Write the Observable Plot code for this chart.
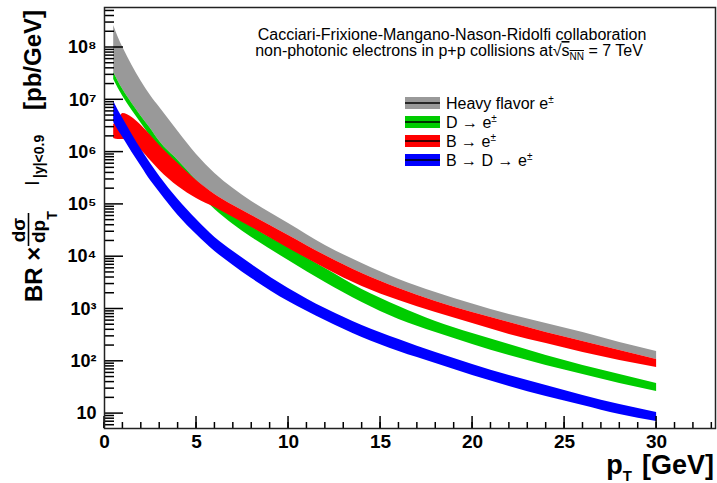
<!DOCTYPE html>
<html><head><meta charset="utf-8">
<script src="https://cdn.jsdelivr.net/npm/d3@7"></script>
<script src="https://cdn.jsdelivr.net/npm/@observablehq/plot@0.6"></script>
<style>
html,body{margin:0;padding:0;background:#fff;overflow:hidden;}
#chart{width:717px;height:483px;}
</style></head><body><div id="chart"></div>
<script>
// pT grid (GeV)
const pt = [0.5, 0.75, 1, 1.5, 2, 2.5, 3, 4, 5, 6, 7, 8, 10, 12, 14, 16, 18, 20, 22, 24, 26, 28, 30];
// Heavy flavor e± band (pb/GeV)
const hfHi = [2.63e8, 1.55e8, 1.00e8, 4.53e7, 2.24e7, 1.21e7, 7.13e6, 2.48e6, 9.00e5, 3.90e5, 2.01e5, 1.14e5, 4.31e4, 1.64e4, 7.42e3, 3.67e3, 2.07e3, 1.25e3, 785, 528, 355, 229, 154];
const hfLo = [3.33e7, 2.24e7, 1.57e7, 8.50e6, 4.80e6, 2.83e6, 1.59e6, 6.91e5, 2.86e5, 1.55e5, 9.53e4, 6.14e4, 2.54e4, 1.05e4, 4.78e3, 2.47e3, 1.39e3, 858, 552, 355, 239, 161, 108];
// D -> e±
const dHi = [3.33e7, 2.24e7, 1.57e7, 8.50e6, 4.80e6, 2.83e6, 1.59e6, 6.91e5, 2.86e5, 1.30e5, 6.70e4, 3.78e4, 1.50e4, 5.95e3, 2.36e3, 1.12e3, 577, 340, 210, 129, 83.1, 55.9, 37.6];
const dLo = [2.44e7, 1.64e7, 1.16e7, 6.24e6, 3.52e6, 1.99e6, 1.12e6, 4.65e5, 1.84e5, 7.99e4, 4.13e4, 2.33e4, 8.46e3, 3.21e3, 1.33e3, 630, 355, 210, 129, 83.1, 55.9, 37.6, 26.5];
// B -> e±
const bHi = [3.37e6, 4.20e6, 5.47e6, 4.59e6, 3.23e6, 2.10e6, 1.34e6, 6.06e5, 2.86e5, 1.55e5, 9.53e4, 6.14e4, 2.54e4, 1.05e4, 4.78e3, 2.47e3, 1.39e3, 858, 552, 355, 239, 161, 108];
const bLo = [1.82e6, 1.74e6, 1.74e6, 1.46e6, 1.07e6, 6.91e5, 4.45e5, 2.20e5, 1.30e5, 8.73e4, 5.62e4, 3.62e4, 1.44e4, 5.95e3, 2.69e3, 1.45e3, 858, 528, 326, 219, 147, 104, 76.1];
// B -> D -> e±
const bdHi = [9.28e6, 6.24e6, 4.39e6, 2.17e6, 1.12e6, 6.06e5, 3.42e5, 1.24e5, 5.14e4, 2.33e4, 1.26e4, 7.10e3, 2.47e3, 1.02e3, 484, 261, 147, 86.9, 53.5, 34.5, 22.2, 14.9, 10.5];
const bdLo = [3.68e6, 2.59e6, 1.90e6, 9.83e5, 5.31e5, 2.86e5, 1.69e5, 6.14e4, 2.66e4, 1.26e4, 6.79e3, 3.83e3, 1.39e3, 603, 285, 154, 90.8, 53.5, 33.0, 21.2, 14.3, 9.62, 7.07];

const seriesNames = ["Heavy flavor e", "D \u2192 e", "B \u2192 e", "B \u2192 D \u2192 e"];
const seriesColors = ["#999999", "#00cc00", "#ff0000", "#0000ff"];
const seriesHi = [hfHi, dHi, bHi, bdHi];
const seriesLo = [hfLo, dLo, bLo, bdLo];

const xMajor = [0, 5, 10, 15, 20, 25, 30];
const xMinor = d3.range(0, 34, 1);
const yMajor = [10, 1e2, 1e3, 1e4, 1e5, 1e6, 1e7, 1e8];
const yMinor = [];
for (let e = 0; e <= 8; e++) for (let m = 2; m <= 9; m++) { const v = m * 10 ** e; if (v > 5.19 && v < 5.82e8) yMinor.push(v); }
const supDigits = {2: "\u00b2", 3: "\u00b3", 4: "\u2074", 5: "\u2075", 6: "\u2076", 7: "\u2077", 8: "\u2078"};

const FONT = '"Liberation Sans", Arial, Helvetica, sans-serif';
const W = 717, H = 483, ML = 104, MR = 2, MT = 7, MB = 55;
const xDom = [0, 33.2], yDom = [5.19, 5.82e8];

const bands = seriesNames.map((name, k) =>
  Plot.areaY(pt.map((p, i) => ({pt: p, lo: seriesLo[k][i], hi: seriesHi[k][i]})),
    {x: "pt", y1: "lo", y2: "hi", fill: seriesColors[k], curve: "monotone-x"}));

// Inward ticks drawn as a render-function mark using Plot's scales
const inwardTicks = (index, scales, values, dims) => {
  const g = d3.create("svg:g").attr("stroke", "#000").attr("stroke-width", 1.5);
  const y0 = dims.height - dims.marginBottom, x0 = dims.marginLeft;
  const add = (x1, y1, x2, y2) => g.append("line").attr("x1", x1).attr("y1", y1).attr("x2", x2).attr("y2", y2);
  xMinor.forEach(v => add(scales.x(v), y0, scales.x(v), y0 - 6));
  xMajor.forEach(v => add(scales.x(v), y0, scales.x(v), y0 - 12));
  yMinor.forEach(v => add(x0, scales.y(v), x0 + 10, scales.y(v)));
  yMajor.forEach(v => add(x0, scales.y(v), x0 + 19, scales.y(v)));
  return g.node();
};

const chart = Plot.plot({
  width: W, height: H,
  marginLeft: ML, marginRight: MR, marginTop: MT, marginBottom: MB,
  style: {fontFamily: FONT, background: "white", color: "#000"},
  x: {domain: xDom, label: null},
  y: {type: "log", domain: yDom, label: null},
  marks: [
    ...bands,
    inwardTicks,
    Plot.axisX(xMajor, {tickSize: 0, tickPadding: 6, fontSize: 19, fontWeight: "bold", fill: "#000"}),
    Plot.axisY(yMajor, {tickSize: 0, tickPadding: 8, fontSize: 18, fontWeight: "bold", fill: "#000",
      tickFormat: d => { const e = Math.round(Math.log10(d)); return e === 1 ? "10" : "10" + supDigits[e]; }}),
    Plot.frame({stroke: "#222", strokeWidth: 1.5})
  ]
});
document.getElementById("chart").appendChild(chart);

const svg = d3.select(chart);
const g = svg.append("g").style("font-family", FONT).attr("fill", "#000").attr("text-anchor", "start");

// Header text
g.append("text").attr("x", 452).attr("y", 39.5).attr("text-anchor", "middle").attr("font-size", 16)
  .text("Cacciari-Frixione-Mangano-Nason-Ridolfi collaboration");
const t2 = g.append("text").attr("x", 449).attr("y", 56).attr("text-anchor", "middle").attr("font-size", 16);
t2.append("tspan").text("non-photonic electrons in p+p collisions at");
t2.append("tspan").text("\u221a");
t2.append("tspan").style("text-decoration", "overline").text("s");
t2.append("tspan").attr("font-size", 10).attr("dy", 4).style("text-decoration", "overline").text("NN");
t2.append("tspan").attr("dy", -4).text(" = 7 TeV");

// Legend
seriesNames.forEach((name, i) => {
  const cy = 103 + i * 19;
  g.append("rect").attr("x", 405).attr("y", cy - 6).attr("width", 35).attr("height", 12).attr("fill", seriesColors[i]);
  g.append("line").attr("x1", 405).attr("x2", 440).attr("y1", cy).attr("y2", cy).attr("stroke", "#000").attr("stroke-width", 1.5);
  const t = g.append("text").attr("x", 446).attr("y", cy + 5.5).attr("font-size", 16);
  t.append("tspan").text(name);
  t.append("tspan").attr("font-size", 10).attr("dy", -6).text("\u00b1");
});

// X axis title
const xt = g.append("text").attr("x", 714).attr("y", 474).attr("text-anchor", "end").attr("font-size", 27).attr("font-weight", "bold");
xt.append("tspan").text("p");
xt.append("tspan").attr("font-size", 15).attr("dy", 7).text("T");
xt.append("tspan").attr("dy", -7).attr("dx", 10).text("[GeV]");

// Y axis title (rotated)
const yg = g.append("g").attr("transform", `translate(0,${H}) rotate(-90)`).attr("font-weight", "bold");
yg.append("text").attr("x", 181).attr("y", 42).attr("font-size", 24).text("BR \u00d7");
yg.append("text").attr("x", 253).attr("y", 25).attr("font-size", 19).attr("text-anchor", "middle").text("d\u03c3");
yg.append("line").attr("x1", 237).attr("x2", 270).attr("y1", 28.5).attr("y2", 28.5).attr("stroke", "#000").attr("stroke-width", 1.6);
const den = yg.append("text").attr("x", 240).attr("y", 45).attr("font-size", 19);
den.append("tspan").text("dp");
den.append("tspan").attr("font-size", 14).attr("dy", 12).text("T");
yg.append("text").attr("x", 298).attr("y", 36).attr("font-size", 14).text("|");
yg.append("text").attr("x", 305).attr("y", 44).attr("font-size", 14).text("|y|<0.9");
yg.append("text").attr("x", 373).attr("y", 41).attr("font-size", 24).text("[pb/GeV]");
</script>
</body></html>
